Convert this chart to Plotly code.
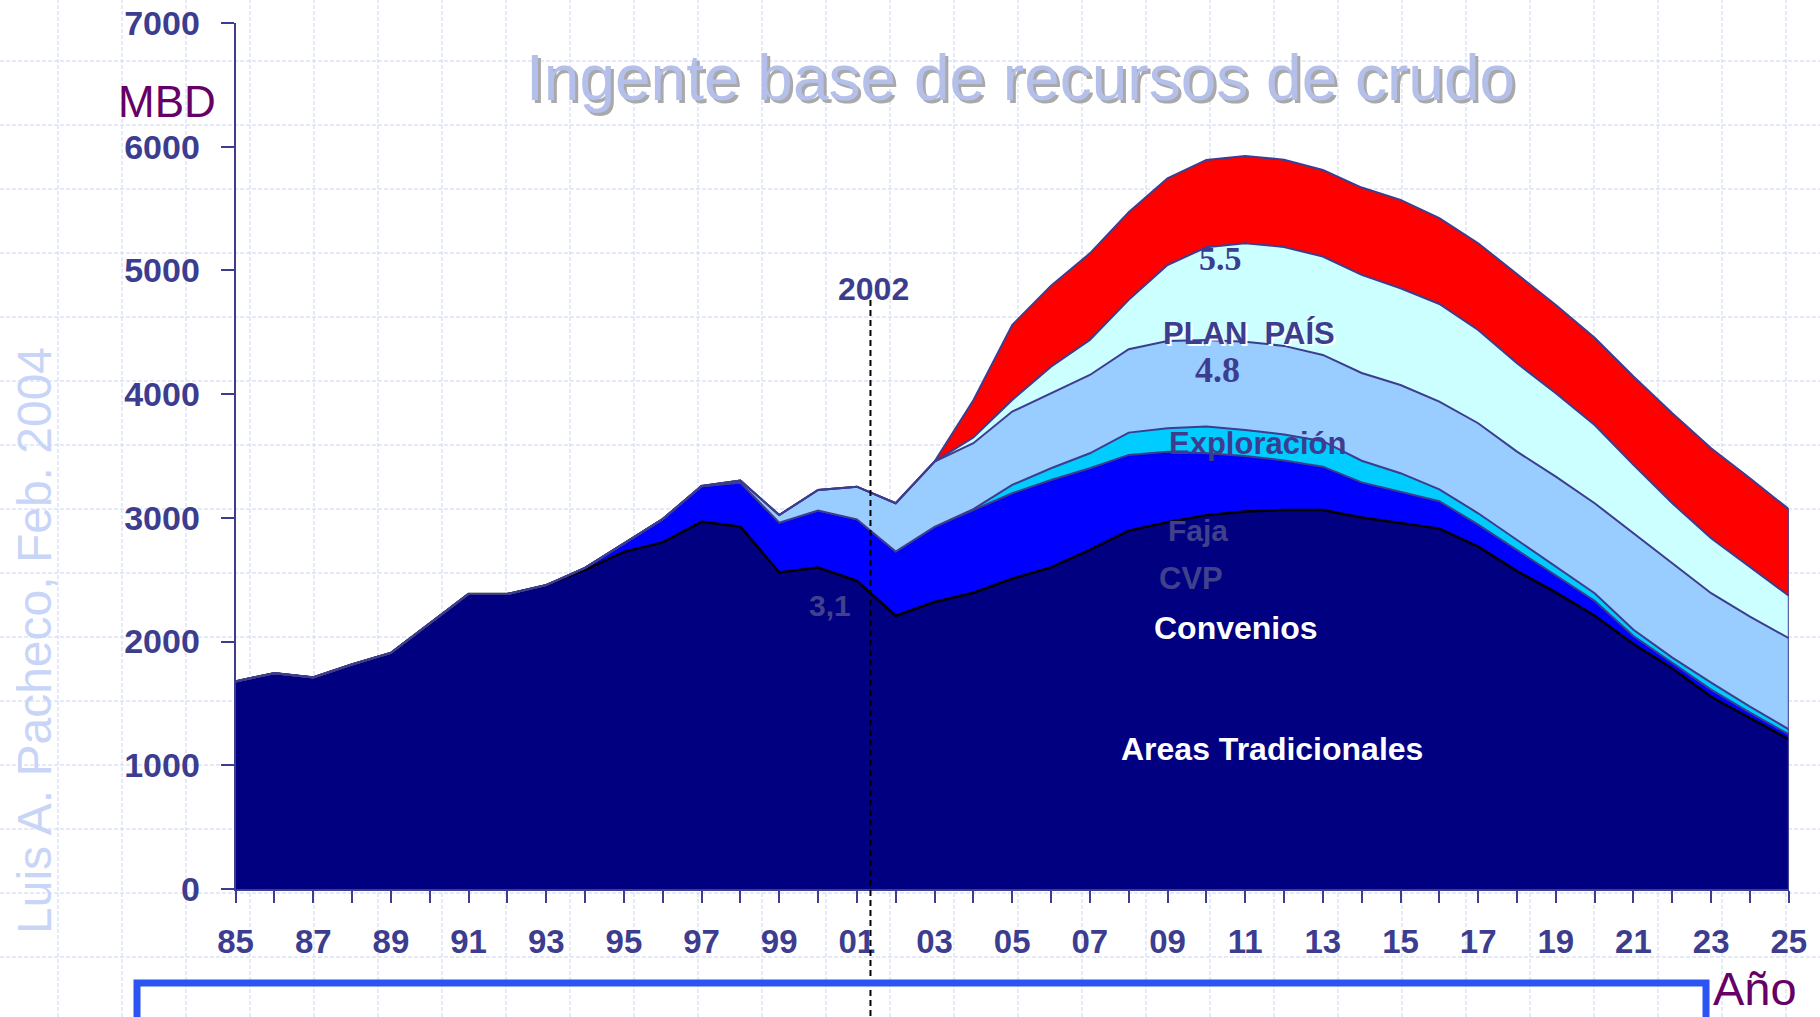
import plotly.graph_objects as go

W, H = 1820, 1017

# ---------------- data ----------------
years = [1985, 1986, 1987, 1988, 1989, 1990, 1991, 1992, 1993, 1994,
         1995, 1996, 1997, 1998, 1999, 2000, 2001, 2002, 2003, 2004,
         2005, 2006, 2007, 2008, 2009, 2010, 2011, 2012, 2013, 2014,
         2015, 2016, 2017, 2018, 2019, 2020, 2021, 2022, 2023, 2024, 2025]

tick_years = [1985, 1987, 1989, 1991, 1993, 1995, 1997, 1999, 2001, 2003, 2005,
              2007, 2009, 2011, 2013, 2015, 2017, 2019, 2021, 2023, 2025]
tick_text = ["85", "87", "89", "91", "93", "95", "97", "99", "01", "03", "05",
             "07", "09", "11", "13", "15", "17", "19", "21", "23", "25"]
y_ticks = [0, 1000, 2000, 3000, 4000, 5000, 6000, 7000]

# MBD per layer (stacked)
tradicionales = [1678, 1744, 1710, 1815, 1908, 2144, 2384, 2384, 2456, 2580,
                 2725, 2802, 2968, 2929, 2558, 2598, 2490, 2209, 2320, 2395,
                 2508, 2600, 2742, 2897, 2964, 3022, 3052, 3064, 3064, 3003,
                 2958, 2913, 2767, 2569, 2398, 2209, 1980, 1783, 1554, 1380, 1210]
convenios = [0, 0, 0, 0, 0, 0, 0, 0, 0, 15,
             70, 188, 287, 356, 403, 462, 498, 518, 607, 671,
             691, 706, 659, 612, 571, 500, 448, 400, 350, 284,
             254, 222, 178, 172, 140, 121, 65, 47, 58, 45, 40]
exploracion = [0, 0, 0, 0, 0, 0, 0, 0, 0, 0,
               0, 0, 0, 0, 0, 0, 0, 0, 0, 4,
               67, 95, 121, 180, 189, 216, 211, 210, 206, 175,
               149, 96, 92, 80, 68, 61, 50, 40, 56, 49, 41]
faja = [0, 0, 0, 0, 0, 0, 0, 0, 0, 0,
        0, 0, 3, 16, 62, 166, 264, 391, 528, 533,
        593, 606, 633, 674, 706, 700, 713, 716, 697, 709,
        713, 708, 728, 714, 727, 727, 781, 763, 723, 728, 736]
plan_pais = [0, 0, 0, 0, 0, 0, 0, 0, 0, 0,
             0, 0, 0, 0, 0, 0, 0, 0, 0, 46,
             94, 215, 283, 399, 614, 749, 796, 800, 795, 793,
             782, 790, 754, 715, 674, 633, 552, 485, 444, 404, 343]
adicional = [0, 0, 0, 0, 0, 0, 0, 0, 0, 0,
             0, 0, 0, 0, 0, 0, 0, 0, 0, 301,
             606, 654, 700, 708, 701, 706, 705, 705, 700, 706,
             714, 693, 701, 720, 713, 704, 714, 727, 728, 714, 700]

corte_year = 2001.35  # dashed "2002" marker

# ---------------- styles ----------------
SLATE = "#3D3D8F"
SANS = "Liberation Sans, Arial, sans-serif"
SERIF = "Liberation Serif, Times New Roman, serif"

fig = go.Figure()

layers = [
    ("Areas Tradicionales", tradicionales, "#000080", "#000000", 2.5),
    ("Convenios", convenios, "#0000FF", SLATE, 2),
    ("Exploración", exploracion, "#00CCFF", SLATE, 2),
    ("Faja", faja, "#99CCFF", SLATE, 2),
    ("Plan País", plan_pais, "#CCFFFF", SLATE, 2),
    ("Adicional", adicional, "#FF0000", SLATE, 2),
]
for name, vals, fillc, linec, lw in layers:
    fig.add_trace(go.Scatter(x=years, y=vals, name=name, mode="lines",
                             stackgroup="one", fillcolor=fillc,
                             line=dict(color=linec, width=lw)))

total_last = sum(v[-1] for _, v, _, _, _ in layers)
fig.add_trace(go.Scatter(x=[years[-1], years[-1]], y=[0, total_last], mode="lines",
                         line=dict(color=SLATE, width=2), hoverinfo="skip"))

# ---------------- background slide grid ----------------
shapes = []
gx = 58
while gx <= W:
    shapes.append(dict(type="line", xref="paper", yref="paper", x0=gx / W, x1=gx / W,
                       y0=0, y1=1, layer="below",
                       line=dict(color="#C9D5F5", width=1, dash="4px,2px")))
    gx += 64
gy = 61
while gy <= H:
    shapes.append(dict(type="line", xref="paper", yref="paper", x0=0, x1=1,
                       y0=1 - gy / H, y1=1 - gy / H, layer="below",
                       line=dict(color="#C9D5F5", width=1, dash="4px,2px")))
    gy += 64

# dashed 2002 marker
shapes.append(dict(type="line", xref="x", yref="paper", x0=corte_year, x1=corte_year,
                   y0=1 - 300 / H, y1=-0.02, layer="above",
                   line=dict(color="#000000", width=2, dash="6px,4px")))
# bottom blue frame
shapes.append(dict(type="rect", xref="paper", yref="paper", x0=137 / W, x1=1706 / W,
                   y0=-0.1, y1=1 - 983 / H, layer="above",
                   line=dict(color="#2B54F2", width=7), fillcolor="rgba(0,0,0,0)"))


def ann(text, px, py, size, color, bold=False, family=SANS, **kw):
    return dict(text=text, x=px / W, y=1 - py / H, xref="paper", yref="paper",
                showarrow=False, xanchor="center", yanchor="middle",
                font=dict(family=family, size=size, color=color,
                          weight="bold" if bold else "normal"), **kw)


annotations = [
    ann("Ingente base de recursos de crudo", 1023, 81, 64, "#A9A9A9"),
    ann("Ingente base de recursos de crudo", 1020, 78, 64, "#B4C0EA"),
    ann("MBD", 167, 101, 44, "#660066"),
    ann("Año", 1755, 988, 47, "#660066"),
    ann("2002", 873, 289, 32, SLATE, bold=True),
    ann("5.5", 1220, 258, 34, SLATE, bold=True, family=SERIF),
    ann("PLAN\u00a0 PAÍS", 1251, 335, 31, "#FFFFFF", bold=True),
    ann("PLAN\u00a0 PAÍS", 1249, 333, 31, SLATE, bold=True),
    ann("4.8", 1217, 370, 36, SLATE, bold=True, family=SERIF),
    ann("Exploración", 1257, 444, 31, SLATE, bold=True),
    ann("Faja", 1198, 530, 30, "#40408C", bold=True),
    ann("CVP", 1191, 578, 31, "#40408C", bold=True),
    ann("Convenios", 1236, 628, 32, "#FFFFFF", bold=True),
    ann("Areas Tradicionales", 1272, 749, 32, "#FFFFFF", bold=True),
    ann("3,1", 830, 605, 30, "#40408C", bold=True),
    ann("Luis A. Pacheco, Feb. 2004", 34, 641, 48, "#C9D5F7", textangle=-90),
]

fig.update_layout(
    template="none",
    width=W, height=H,
    margin=dict(l=0, r=0, t=0, b=0),
    paper_bgcolor="white", plot_bgcolor="rgba(0,0,0,0)",
    showlegend=False,
    shapes=shapes,
    annotations=annotations,
    xaxis=dict(domain=[235.6 / W, 1788.8 / W], range=[1985, 2025],
               tickvals=tick_years, ticktext=tick_text,
               ticks="outside", ticklen=12, tickwidth=2, tickcolor=SLATE,
               showline=True, linecolor=SLATE, linewidth=2,
               showgrid=False, zeroline=False, automargin=False,
               ticklabelstandoff=10,
               tickfont=dict(family=SANS, size=33, color=SLATE, weight="bold"),
               minor=dict(tickvals=years, ticks="outside", ticklen=12, tickwidth=2,
                          tickcolor=SLATE, showgrid=False)),
    yaxis=dict(domain=[(H - 889) / H, (H - 23) / H], range=[0, 7000],
               tickvals=y_ticks, ticks="outside", ticklen=13, tickwidth=2,
               tickcolor=SLATE, showline=True, linecolor=SLATE, linewidth=2,
               showgrid=False, zeroline=False, automargin=False,
               ticklabelstandoff=14,
               tickfont=dict(family=SANS, size=34, color=SLATE, weight="bold")),
)

fig.write_html("out.html", config={"displayModeBar": False},
               post_script="document.body.style.margin='0';")
